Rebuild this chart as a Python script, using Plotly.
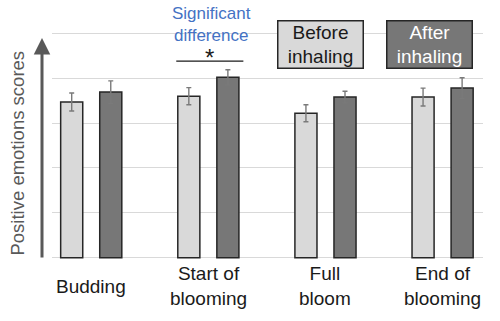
import plotly.graph_objects as go

categories = ["Budding", "Start of<br>blooming", "Full<br>bloom", "End of<br>blooming"]
before_vals = [3.47, 3.60, 3.22, 3.58]
after_vals = [3.69, 4.02, 3.58, 3.78]
before_err = [0.20, 0.19, 0.19, 0.20]
after_err = [0.25, 0.17, 0.13, 0.23]
y_ticks = [0, 1, 2, 3, 4, 5]

FONT = "Liberation Sans, Arial, sans-serif"
xi = list(range(len(categories)))

fig = go.Figure()
fig.add_trace(go.Bar(
    x=xi, y=before_vals, name="Before inhaling",
    marker=dict(color="#d9d9d9", line=dict(color="#262626", width=1.5)),
    error_y=dict(type="data", array=before_err, color="#7a7a7a", thickness=1.4, width=2.5),
    showlegend=False,
))
fig.add_trace(go.Bar(
    x=xi, y=after_vals, name="After inhaling",
    marker=dict(color="#777777", line=dict(color="#262626", width=1.5)),
    error_y=dict(type="data", array=after_err, color="#7a7a7a", thickness=1.4, width=2.5),
    showlegend=False,
))

annotations = []
for i, c in enumerate(categories):
    annotations.append(dict(x=i, y=-0.119, xref="x", yref="paper", text=c,
                            showarrow=False, yanchor="middle", xanchor="center",
                            font=dict(family=FONT, size=19, color="#1a1a1a")))
# y axis arrow
annotations.append(dict(x=-0.0232, y=0.974, xref="paper", yref="paper", text="",
                        showarrow=True, ax=0, ay=221, axref="pixel", ayref="pixel",
                        arrowhead=2, arrowsize=1.1, arrowwidth=3, arrowcolor="#595959",
                        standoff=0, startstandoff=0))
# significance
annotations.append(dict(x=1.026, y=1.031, xref="x", yref="paper",
                        xanchor="center", yanchor="middle",
                        text="Significant<br>difference", showarrow=False,
                        font=dict(family=FONT, size=17, color="#4472c4")))
annotations.append(dict(x=1.01, y=4.46, xref="x", yref="y", text="*", showarrow=False,
                        xanchor="center", yanchor="middle",
                        font=dict(family=FONT, size=24, color="#1a1a1a")))
# legend boxes
annotations.append(dict(x=0.624, y=0.943, xref="paper", yref="paper",
                        xanchor="center", yanchor="middle",
                        text="Before<br>inhaling", showarrow=False,
                        width=84, height=46, borderpad=0, borderwidth=1.5,
                        bordercolor="#262626", bgcolor="#d9d9d9",
                        font=dict(family=FONT, size=19, color="#1a1a1a")))
annotations.append(dict(x=0.876, y=0.943, xref="paper", yref="paper",
                        xanchor="center", yanchor="middle",
                        text="After<br>inhaling", showarrow=False,
                        width=84, height=46, borderpad=0, borderwidth=1.5,
                        bordercolor="#262626", bgcolor="#777777",
                        font=dict(family=FONT, size=19, color="#ffffff")))
annotations.append(dict(x=-0.081, y=0.465, xref="paper", yref="paper",
                        xanchor="center", yanchor="middle",
                        text="Positive emotions scores", textangle=-90, showarrow=False,
                        font=dict(family=FONT, size=18.5, color="#595959")))

fig.update_layout(
    width=500, height=321,
    margin=dict(l=52, r=17, t=32, b=62),
    paper_bgcolor="white", plot_bgcolor="white",
    barmode="group", bargap=0.333, bargroupgap=0.435,
    xaxis=dict(range=[-0.335, 3.345], showticklabels=False, showgrid=False,
               zeroline=False, showline=False, ticks=""),
    yaxis=dict(range=[-0.03, 5.03], tickvals=y_ticks, showticklabels=False,
               showgrid=True, gridcolor="#d9d9d9", gridwidth=1,
               zeroline=False, showline=False, ticks=""),
    annotations=annotations,
    shapes=[dict(type="line", xref="x", yref="y", x0=0.726, x1=1.299, y0=4.38, y1=4.38,
                 line=dict(color="#1a1a1a", width=1.2))],
)

fig.write_html("out.html")
